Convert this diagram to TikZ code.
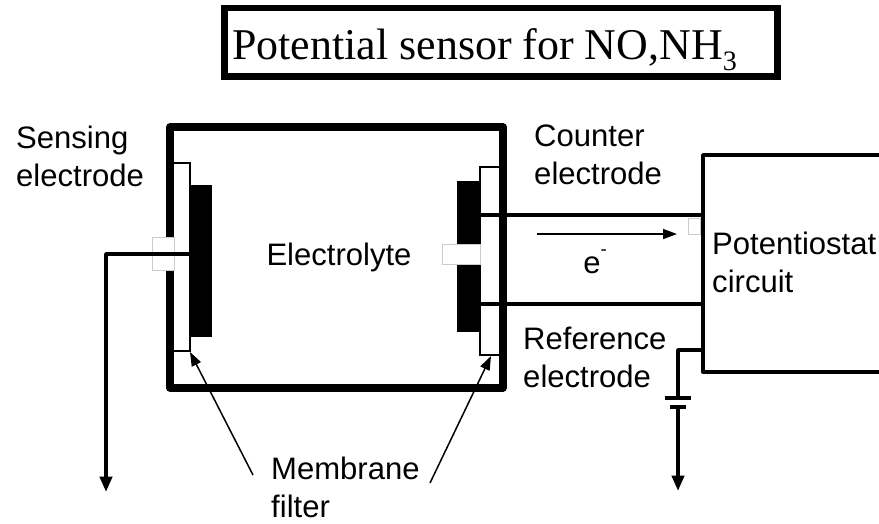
\documentclass[tikz,border=0pt]{standalone}
\usepackage{fontspec}
\setmainfont{Liberation Sans}
\newfontfamily\titlefont{Liberation Serif}
\usetikzlibrary{arrows.meta}
\tikzset{
  wall/.style={line width=2.2mm, line join=round},
  wire/.style={line width=1.15mm, line join=round},
  thinwire/.style={line width=0.6mm, line join=round},
  film/.style={draw, fill=white, line width=0.6mm},
  plate/.style={fill=black},
  gap/.style={draw=black!20, fill=white, line width=0.2mm},
  lbl/.style={inner sep=0pt, align=left, font=\fontsize{26.5pt}{32pt}\selectfont},
  tipw/.style={-{Stealth[length=4.6mm, width=3.6mm, inset=0pt]}},
  tipn/.style={-{Stealth[length=4.2mm, width=3mm, inset=0pt]}, line width=0.45mm}
}
\begin{document}
\begin{tikzpicture}[x=0.03cm, y=-0.03cm]
  \useasboundingbox (0, 0) rectangle (879, 523);
  % title
  \node (title) [draw, line width=2mm, minimum width=16.6cm, minimum height=2.05cm] at (501, 42) {};
  \node (head) [anchor=base west, inner sep=0pt, font=\fontsize{37.5pt}{40pt}\selectfont\titlefont] at (232, 59)
        {Potential sensor for NO,NH\raisebox{-0.55ex}{\fontsize{24pt}{24pt}\selectfont 3}};
  % cell
  \draw[wall] (170, 127) rectangle (503, 388);
  \draw[film] (173, 163) rectangle (190, 351);
  \draw[film] (480, 167) rectangle (500, 355);
  \fill[plate] (190, 185) rectangle (212, 337);
  \fill[plate] (457, 181) rectangle (480, 332);
  \draw[gap] (152, 237) rectangle (174, 270);
  \draw[gap] (442, 244) rectangle (480, 264);
  % potentiostat
  \coordinate (ptl) at (703, 155);
  \coordinate (pbl) at (703, 372);
  \draw[wire] (890, 155) -- (ptl) -- (pbl) -- (890, 372);
  \draw[gap] (688, 218) rectangle (700, 234);
  % labels
  \node (sens) [lbl, anchor=north west] at (16, 126) {Sensing\\electrode};
  \node (elec) [lbl] at (339, 257) {Electrolyte};
  \node (coun) [lbl, anchor=north west] at (534, 125) {Counter\\electrode};
  \node (pote) [lbl, anchor=north west] at (712, 232) {Potentiostat\\circuit};
  \node (refe) [lbl, anchor=north west] at (523, 327) {Reference\\electrode};
  \node (memb) [lbl, anchor=north west] at (271, 457) {Membrane\\filter};
  \node (elek) [lbl] at (595, 262) {e\raisebox{1.1ex}{\fontsize{16pt}{16pt}\selectfont -}};
  % wires
  \coordinate (sw) at (190, 254);
  \coordinate (sc) at (106, 254);
  \coordinate (se) at (106, 492);
  \draw[wire, tipw] (sw) -- (sc) -- (se);
  \coordinate (ca) at (480, 215);
  \coordinate (cb) at (703, 215);
  \coordinate (ra) at (480, 304);
  \coordinate (rb) at (703, 304);
  \draw[wire] (ca) -- (cb) (ra) -- (rb);
  \coordinate (ea) at (537, 234);
  \coordinate (eb) at (677, 234);
  \draw[thinwire, tipn] (ea) -- (eb);
  % battery
  \coordinate (ba) at (703, 350);
  \coordinate (bc) at (678, 350);
  \coordinate (bd) at (678, 398);
  \coordinate (be) at (678, 407);
  \coordinate (bf) at (678, 491);
  \draw[wire] (ba) -- (bc) -- (bd);
  \draw[wire, tipw] (be) -- (bf);
  \draw[wire] (665, 398) -- (691, 398);
  \draw[wire] (670, 407) -- (686, 407);
  % membrane arrows
  \coordinate (ml) at (253, 475);
  \coordinate (mlt) at (190, 352);
  \coordinate (mr) at (430, 483);
  \coordinate (mrt) at (491, 356);
  \draw[tipn] (ml) -- (mlt);
  \draw[tipn] (mr) -- (mrt);
\end{tikzpicture}
\end{document}
